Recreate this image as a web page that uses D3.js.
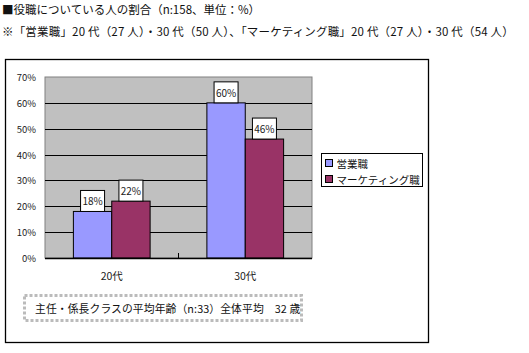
<!DOCTYPE html>
<html>
<head>
<meta charset="utf-8">
<script src="https://cdn.jsdelivr.net/npm/d3@7"></script>
<style>
  body { margin: 0; background: #fff; }
  text { font-family: "Noto Sans CJK JP", "DejaVu Sans", sans-serif; }
</style>
</head>
<body>
<svg id="chart" width="529" height="353"></svg>
<script>
// data
const categories = ['20代', '30代'];
const seriesNames = ['営業職', 'マーケティング職'];
const sales = [18, 60];
const marketing = [22, 46];
const yTicks = [0, 10, 20, 30, 40, 50, 60, 70];
const titleLines = [
  '■役職についている人の割合（n:158、単位：%）',
  '※「営業職」20 代（27 人）・30 代（50 人）、「マーケティング職」20 代（27 人）・30 代（54 人）'
];
const noteText = '主任・係長クラスの平均年齢（n:33）全体平均　32 歳';

const colors = ['#9999ff', '#993366'];
const svg = d3.select('#chart');

// header text
svg.selectAll('text.head')
   .data(titleLines)
   .enter()
   .append('text')
   .attr('class', 'head')
   .attr('x', 2)
   .attr('y', (d, i) => 14 + i * 22)
   .attr('font-size', 11.5)
   .attr('letter-spacing', (d, i) => i ? 0.18 : 0)
   .attr('fill', '#111')
   .text(d => d);

// outer chart frame
svg.append('rect')
   .attr('x', 5.5).attr('y', 59.5)
   .attr('width', 423).attr('height', 283)
   .attr('fill', '#fff')
   .attr('stroke', '#000').attr('stroke-width', 1.3);

const plot = {left: 45, top: 77, right: 312, bottom: 258};

let x0 = d3.scaleBand().domain(categories).range([plot.left, plot.right]);
let x1 = d3.scaleBand().domain(seriesNames)
           .range([0, x0.bandwidth()])
           .paddingOuter(0.74).paddingInner(0);
let y = d3.scaleLinear().domain([0, 70]).range([plot.bottom, plot.top]);

svg.append('rect')
   .attr('x', plot.left).attr('y', plot.top)
   .attr('width', plot.right - plot.left).attr('height', plot.bottom - plot.top)
   .attr('fill', '#c0c0c0')
   .attr('stroke', '#808080');

// gridlines
svg.append('g')
   .selectAll('line')
   .data(yTicks.slice(1, -1))
   .enter()
   .append('line')
   .attr('x1', plot.left).attr('x2', plot.right)
   .attr('y1', d => Math.round(y(d)) + 0.5).attr('y2', d => Math.round(y(d)) + 0.5)
   .attr('stroke', '#000');

// y labels
svg.append('g')
   .selectAll('text')
   .data(yTicks)
   .enter()
   .append('text')
   .attr('x', 36)
   .attr('y', d => y(d) + 4)
   .attr('text-anchor', 'end')
   .attr('font-size', 9.5)
   .attr('fill', '#222')
   .text(d => d + '%');

// bars
const rows = categories.map((c, i) => ({cat: c, vals: [sales[i], marketing[i]]}));
const groups = svg.append('g')
   .selectAll('g')
   .data(rows)
   .enter()
   .append('g')
   .attr('transform', d => 'translate(' + x0(d.cat) + ',0)');

groups.selectAll('rect')
   .data(d => d.vals.map((v, j) => ({name: seriesNames[j], v: v, j: j})))
   .enter()
   .append('rect')
   .attr('x', d => x1(d.name))
   .attr('y', d => y(d.v))
   .attr('width', x1.bandwidth())
   .attr('height', d => plot.bottom - y(d.v))
   .attr('fill', d => colors[d.j])
   .attr('stroke', '#000');

// data labels
const lab = groups.selectAll('g.lab')
   .data(d => d.vals.map((v, j) => ({name: seriesNames[j], v: v})))
   .enter()
   .append('g')
   .attr('class', 'lab')
   .attr('transform', d => 'translate(' + (x1(d.name) + x1.bandwidth() / 2) + ',' + y(d.v) + ')');
lab.append('rect')
   .attr('x', -12).attr('y', -21)
   .attr('width', 24).attr('height', 21)
   .attr('fill', '#fff').attr('stroke', '#000');
lab.append('text')
   .attr('y', -6)
   .attr('text-anchor', 'middle')
   .attr('font-size', 10)
   .attr('fill', '#222')
   .text(d => d.v + '%');

// x axis
svg.append('line')
   .attr('x1', plot.left).attr('x2', plot.right)
   .attr('y1', plot.bottom + 0.5).attr('y2', plot.bottom + 0.5)
   .attr('stroke', '#000').attr('stroke-width', 1.5);
svg.append('line')
   .attr('x1', x0(categories[1])).attr('x2', x0(categories[1]))
   .attr('y1', plot.bottom).attr('y2', plot.bottom - 5)
   .attr('stroke', '#000');
svg.append('g')
   .selectAll('text')
   .data(categories)
   .enter()
   .append('text')
   .attr('x', d => x0(d) + x0.bandwidth() / 2)
   .attr('y', 280)
   .attr('text-anchor', 'middle')
   .attr('font-size', 10.5)
   .attr('fill', '#222')
   .text(d => d);

// legend
const legend = svg.append('g').attr('transform', 'translate(321.5,153.5)');
legend.append('rect')
   .attr('width', 101).attr('height', 33)
   .attr('fill', '#fff').attr('stroke', '#000');
seriesNames.forEach((n, i) => {
  legend.append('rect')
     .attr('x', 4).attr('y', 6 + i * 16)
     .attr('width', 7).attr('height', 7)
     .attr('fill', colors[i]).attr('stroke', '#000');
  legend.append('text')
     .attr('x', 15).attr('y', 14 + i * 16)
     .attr('font-size', 10.5)
     .attr('fill', '#111')
     .text(n);
});

// note box
svg.append('rect')
   .attr('x', 24.5).attr('y', 295.5)
   .attr('width', 277).attr('height', 25)
   .attr('fill', 'none')
   .attr('stroke', '#bbb').attr('stroke-width', 3)
   .attr('stroke-dasharray', '3,2');
svg.append('text')
   .attr('x', 35).attr('y', 313)
   .attr('font-size', 10.8)
   .attr('letter-spacing', 0.1)
   .attr('fill', '#111')
   .text(noteText);
</script>
</body>
</html>
